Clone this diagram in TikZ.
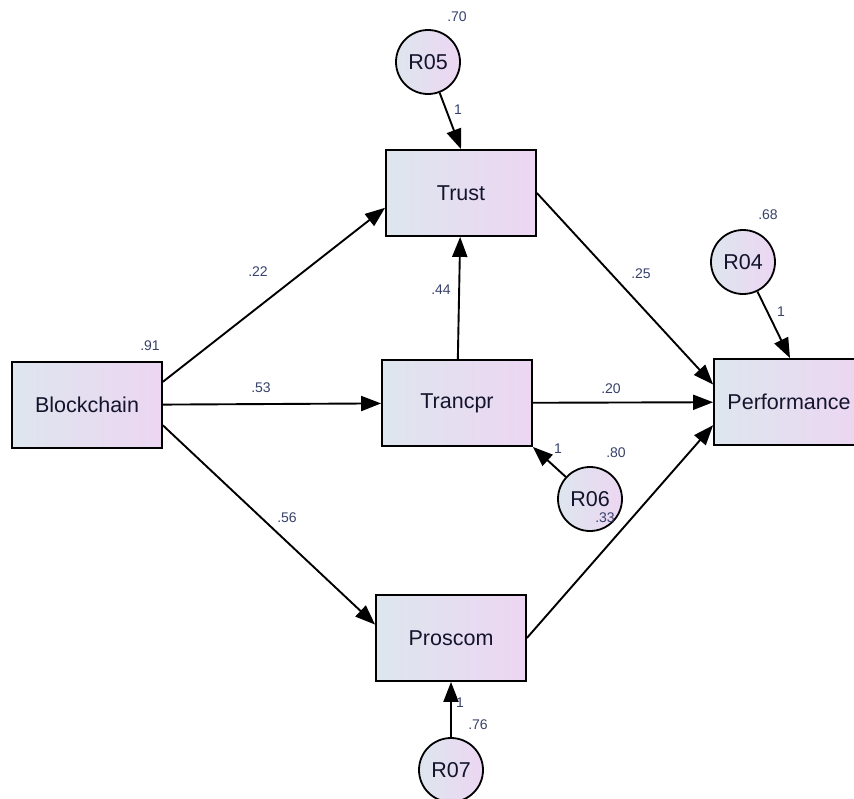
\documentclass[tikz,border=0pt]{standalone}
\usepackage{fontspec}
\setmainfont{Liberation Sans}
\usepackage{xcolor}
\definecolor{boxleft}{RGB}{222, 230, 238}
\definecolor{boxright}{RGB}{236, 214, 242}
\definecolor{coefcolor}{RGB}{55, 65, 105}
\definecolor{namecolor}{RGB}{20, 20, 45}
\usetikzlibrary{arrows.meta, calc}

\begin{document}
\begin{tikzpicture}[
    x=1pt, y=-1pt,
    var/.style={draw=black, line width=1.8pt, left color=boxleft, right color=boxright,
      minimum width=150pt, minimum height=86pt, inner sep=0pt,
      text=namecolor, font=\fontsize{21.5}{24}\selectfont},
    err/.style={circle, draw=black, line width=1.8pt, left color=boxleft, right color=boxright,
      minimum size=64pt, inner sep=0pt,
      text=namecolor, font=\fontsize{21.5}{24}\selectfont},
    coef/.style={text=coefcolor, font=\fontsize{14}{16}\selectfont, inner sep=0pt},
    path/.style={line width=1.9pt, -{Triangle[length=20pt, width=15pt]}}
  ]
  \useasboundingbox (0,0) rectangle (854,798);
  \clip (0,0) rectangle (854,798);

  % observed variables
  \node[var] (blockchain) at (87,405) {Blockchain};
  \node[var] (trust) at (461,193) {Trust};
  \node[var] (trancpr) at (457,403) {Trancpr};
  \node[var] (proscom) at (451,638) {Proscom};
  \node[var] (perf) at (789,402) {Performance};

  % residuals
  \node[err] (r05) at (428,62) {R05};
  \node[err] (r04) at (743,262) {R04};
  \node[err] (r06) at (590,499) {R06};
  \node[err] (r07) at (451,770) {R07};

  % paths
  \draw[path] (blockchain.17) -- (trust.191);
  \draw[path] (blockchain) -- (trancpr);
  \draw[path] (blockchain.345) -- (proscom.170);
  \draw[path] (trancpr) -- (trust);
  \draw[path] (trust.east) -- (perf.167);
  \draw[path] (trancpr) -- (perf);
  \draw[path] (proscom.east) -- (perf.197);
  \draw[path] (r05) -- (trust.north);
  \draw[path] (r04) -- ($(perf.north)+(1,0)$);
  \draw[path] (r06) -- (trancpr.south east);
  \draw[path] (r07) -- (proscom.south);

  % estimates
  \node[coef] (c70) at (457,17) {.70};
  \node[coef] (c68) at (768,215) {.68};
  \node[coef] (c91) at (150,346) {.91};
  \node[coef] (c80) at (616,453) {.80};
  \node[coef] (c33) at (605,518) {.33};
  \node[coef] (c76) at (478,725) {.76};
  \node[coef] (c22) at (258,272) {.22};
  \node[coef] (c44) at (441,290) {.44};
  \node[coef] (c25) at (641,274) {.25};
  \node[coef] (c53) at (261,388) {.53};
  \node[coef] (c20) at (611,389) {.20};
  \node[coef] (c56) at (287,518) {.56};
  \node[coef] (w05) at (458,110) {1};
  \node[coef] (w04) at (781,312) {1};
  \node[coef] (w06) at (558,449) {1};
  \node[coef] (w07) at (460,703) {1};
\end{tikzpicture}
\end{document}
